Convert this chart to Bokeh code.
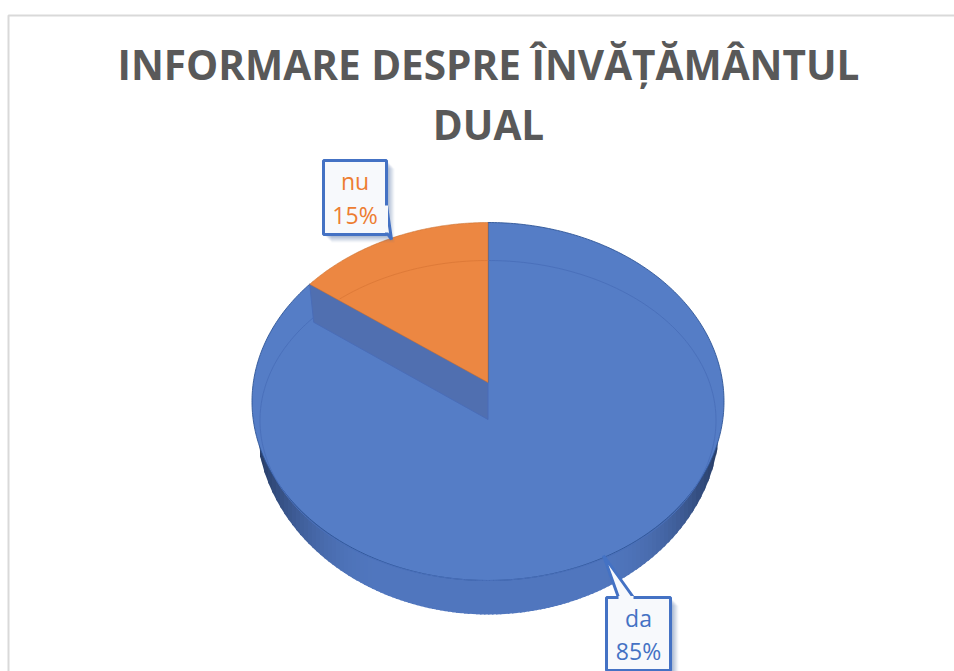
import numpy as np
from bokeh.plotting import figure
from bokeh.models import Range1d
from bokeh.core.properties import value
from bokeh.embed import file_html
from bokeh.resources import INLINE

# ---- chart content
title_lines = ["INFORMARE DESPRE ÎNVĂȚĂMÂNTUL", "DUAL"]
categories = ["da", "nu"]
shares = [85, 15]
percent_labels = ["85%", "15%"]

# ---- page-pixel layout
PAGE_W, PAGE_H = 954, 671
p = figure(width=PAGE_W, height=PAGE_H, output_backend="svg", toolbar_location=None,
           x_range=Range1d(0, PAGE_W), y_range=Range1d(PAGE_H, 0),
           min_border=0, outline_line_color=None, background_fill_color="white")
p.xaxis.visible = False
p.yaxis.visible = False
p.grid.visible = False

CX = 487.5
TITLE_X = 488
TOP_CY, TOP_A, TOP_B = 401, 236, 179      # top surface outline
INNER_CY, INNER_A, INNER_B = 420, 228, 160  # faint inner rim
WALL_CY, WALL_A, WALL_B = 420, 232, 194   # lower rim of the side wall
APEX_Y = 382
NOTCH_DX, NOTCH_DY = 4, 38

BLUE, ORANGE = "#557DC6", "#EC8742"
LINE_BLUE = "#4472C4"

# ---- side wall, shaded strip by strip
def wall_y(x):
    return WALL_CY + WALL_B * np.sqrt(np.clip(1 - ((x - CX) / WALL_A) ** 2, 0, 1))

def mix(c1, c2, f):
    return "#%02x%02x%02x" % tuple(int(round(a + (b - a) * f)) for a, b in zip(c1, c2))

edges = np.arange(CX - WALL_A, CX + WALL_A + 4, 4.0)
edges[-1] = CX + WALL_A
xs, ys, cols = [], [], []
for l, r in zip(edges[:-1], edges[1:]):
    r2 = min(r + 1.5, CX + WALL_A)          # overlap neighbours to hide seams
    xs.append([l, r2, r2, l])
    ys.append([TOP_CY, TOP_CY, wall_y(r2), wall_y(l)])
    d = abs((l + r) / 2 - CX) / WALL_A
    f = np.clip((d - 0.45) / 0.55, 0, 1) ** 2.2
    cols.append(mix((80, 118, 190), (38, 58, 98), f))
p.patches(xs, ys, fill_color=cols, line_color=None)

# ---- top surface
theta = 2 * np.pi * shares[1] / sum(shares)
dx, dy = -np.sin(theta) * TOP_A, -np.cos(theta) * TOP_B
qa = (dx / TOP_A) ** 2 + (dy / TOP_B) ** 2
qb = 2 * dy * (APEX_Y - TOP_CY) / TOP_B ** 2
qc = ((APEX_Y - TOP_CY) / TOP_B) ** 2 - 1
s = (-qb + np.sqrt(qb ** 2 - 4 * qa * qc)) / (2 * qa)
px, py = CX + s * dx, APEX_Y + s * dy
t0 = np.arctan2(-(px - CX) / TOP_A, -(py - TOP_CY) / TOP_B)

t_blue = np.linspace(0, 2 * np.pi - t0, 400)
p.patch(np.r_[CX, CX + TOP_A * np.sin(t_blue)],
        np.r_[APEX_Y, TOP_CY - TOP_B * np.cos(t_blue)],
        fill_color=BLUE, line_color="#2F5597", line_width=1, line_alpha=0.9)

# inner rim
t_in = np.linspace(0, 2 * np.pi, 400)
ix, iy = CX + INNER_A * np.sin(t_in), INNER_CY - INNER_B * np.cos(t_in)
p.line(ix, iy, line_color="#4A70BB", line_width=1)

# recessed wall of the pulled-out slice
p.patch([px, px + NOTCH_DX, CX, CX], [py, py + NOTCH_DY, APEX_Y + NOTCH_DY - 1, APEX_Y],
        fill_color="#506FB0", line_color="#4A6DB8", line_width=1)

t_or = np.linspace(-t0, 0, 120) + 2 * np.pi
p.patch(np.r_[CX, CX + TOP_A * np.sin(t_or)],
        np.r_[APEX_Y, TOP_CY - TOP_B * np.cos(t_or)],
        fill_color=ORANGE, line_color="#C9702F", line_width=0.8, line_alpha=0.7)
# inner rim seen through the orange slice
mask = (ix < CX) & (iy < APEX_Y + (ix - CX) * (py - APEX_Y) / (px - CX)) & (iy < 330)
p.line(ix[mask], iy[mask], line_color="#DE7A38", line_width=1)

# ---- callouts
def callout(left, right, top, bottom, tail_x, tail_y, colour, cat, pct, y1, y2):
    for k, a in zip([8, 7, 6, 5, 4, 3, 2], [0.05, 0.06, 0.07, 0.08, 0.09, 0.10, 0.12]):
        p.quad(left=left + k, right=right + k, top=top + k, bottom=bottom + k,
               fill_color="#3F5F9F", fill_alpha=a, line_color=None)
    p.patch(tail_x, tail_y, fill_color="#F7F9FC", line_color=LINE_BLUE, line_width=3)
    p.quad(left=left, right=right, top=top, bottom=bottom, fill_color="#F7F9FC",
           line_color=LINE_BLUE, line_width=3)
    # open the box edge where the tail joins it
    p.line([tail_x[0], tail_x[-1]], [tail_y[0], tail_y[-1]], line_color="#F7F9FC", line_width=3)
    cx = (left + right) / 2
    p.text([cx, cx], [y1, y2], text=[cat, pct], text_color=colour, text_align="center",
           text_baseline="middle", text_font=value("Open Sans"), text_font_size="23px")

callout(323, 386, 160, 234, [386, 391, 386], [205, 239, 232], "#ED7D31",
        categories[1], percent_labels[1], 180, 214)
callout(606, 670, 597, 670, [618, 603, 633], [597, 555, 597], LINE_BLUE,
        categories[0], percent_labels[0], 617, 650)

# ---- title
p.text([TITLE_X, TITLE_X], [63.5, 123.5], text=title_lines, text_color="#595959", text_align="center",
       text_baseline="middle", text_font=value("Open Sans"), text_font_size="40.5px",
       text_font_style="bold")

# ---- chart frame
p.line([8, 8, PAGE_W], [PAGE_H, 15, 15], line_color="#D9D9D9", line_width=2)

open("out.html", "w").write(file_html(p, INLINE))
